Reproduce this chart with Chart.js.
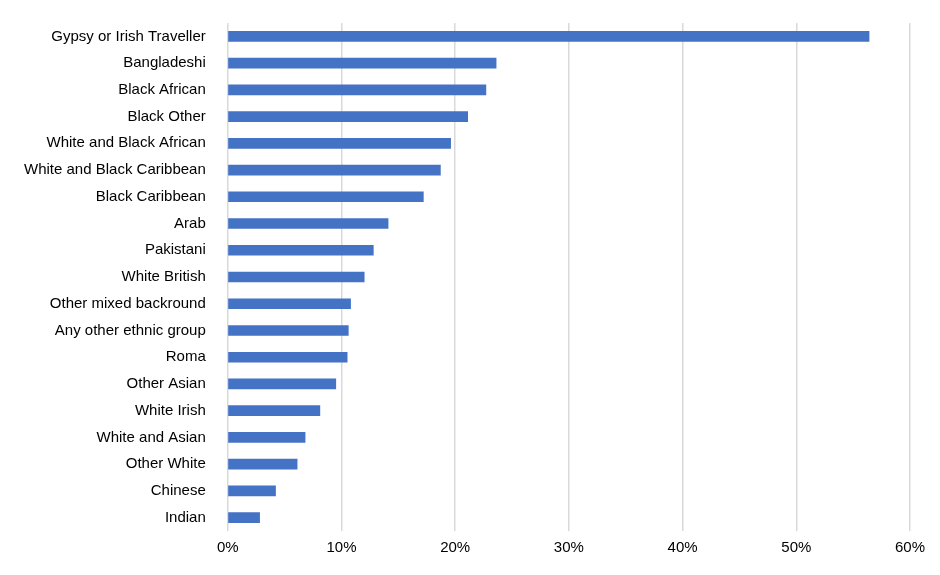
<!DOCTYPE html>
<html lang="en">
<head>
<meta charset="UTF-8">
<title>Ethnic group chart</title>
<script src="https://cdn.jsdelivr.net/npm/chart.js"></script>
<style>
  body { margin: 0; background: #fff; }
  #wrap { width: 940px; height: 575px; }
</style>
</head>
<body>
<div id="wrap"><canvas id="myChart"></canvas></div>
<script>
const categories = ['Gypsy or Irish Traveller', 'Bangladeshi', 'Black African', 'Black Other',
  'White and Black African', 'White and Black Caribbean', 'Black Caribbean', 'Arab', 'Pakistani',
  'White British', 'Other mixed backround', 'Any other ethnic group', 'Roma', 'Other Asian',
  'White Irish', 'White and Asian', 'Other White', 'Chinese', 'Indian'];
const values = [56.4, 23.6, 22.7, 21.1, 19.6, 18.7, 17.2, 14.1, 12.8, 12.0, 10.8, 10.6, 10.5, 9.5, 8.1, 6.8, 6.1, 4.2, 2.8];

const ctx = document.getElementById('myChart').getContext('2d');
new Chart(ctx, {
  type: 'bar',
  data: {
    labels: categories,
    datasets: [{
      data: values,
      backgroundColor: '#4472C4',
      barThickness: 10
    }]
  },
  options: {
    indexAxis: 'y',
    responsive: true,
    maintainAspectRatio: false,
    animation: false,
    layout: { padding: { top: 22, right: 30, bottom: 10, left: 10 } },
    scales: {
      x: {
        min: 0, max: 60,
        ticks: { stepSize: 10, callback: v => v + '%', color: '#000', font: { family: 'Liberation Sans', size: 15 }, padding: 8 },
        grid: { color: '#d9d9d9', lineWidth: 1.5, drawTicks: false },
        border: { display: false }
      },
      y: {
        ticks: { color: '#000', font: { family: 'Liberation Sans', size: 15 }, padding: 14, autoSkip: false },
        grid: { display: false },
        border: { display: false }
      }
    },
    plugins: { legend: { display: false }, tooltip: { enabled: false } }
  }
});
</script>
</body>
</html>
